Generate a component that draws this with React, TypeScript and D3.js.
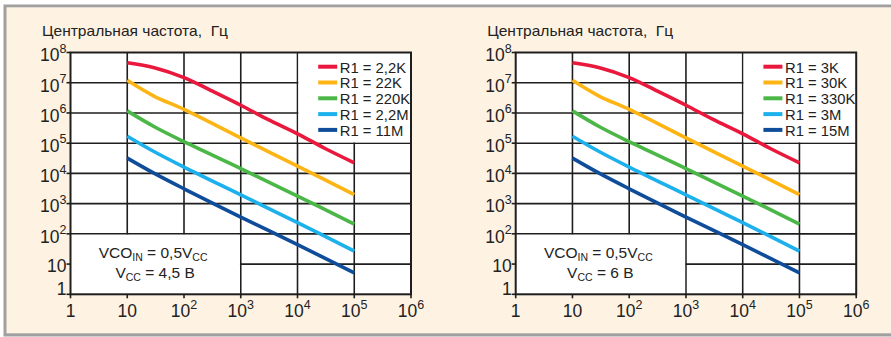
import React from "react";
import * as d3 from "d3";

// Frequency axis (control frequency, Hz) and axis decades
const xDecades = [1, 10, 100, 1000, 10000, 100000, 1000000];
const yDecades = [1, 10, 100, 1000, 10000, 100000, 1000000, 10000000, 100000000];

// Curve sample points: [x, centre frequency, Hz]
const curveRed: [number, number][] = [
  [10, 4.57e7], [30, 3.15e7], [100, 1.48e7], [300, 5.5e6], [1000, 1.8e6],
  [3000, 6.1e5], [10000, 2.04e5], [30000, 6.8e4], [100000, 2.24e4],
];
const curveOrange: [number, number][] = [
  [10, 1.2e7], [30, 3.55e6], [100, 1.32e6], [1000, 1.5e5], [10000, 1.74e4], [100000, 2.0e3],
];
const curveGreen: [number, number][] = [
  [10, 1.17e6], [30, 3.5e5], [100, 1.12e5], [1000, 1.45e4], [10000, 1.78e3], [100000, 2.1e2],
];
const curveCyan: [number, number][] = [
  [10, 1.7e5], [30, 5.2e4], [100, 1.62e4], [1000, 1.95e3], [10000, 2.35e2], [100000, 27],
];
const curveNavy: [number, number][] = [
  [10, 3.2e4], [30, 1.0e4], [100, 3.1e3], [1000, 3.6e2], [10000, 44], [100000, 5.1],
];

const seriesCurves = [curveRed, curveOrange, curveGreen, curveCyan, curveNavy];
const seriesColors = ["#e9183c", "#fdb515", "#4bb747", "#1cb1ec", "#0f4d9b"];

const legendLeft = ["R1 = 2,2K", "R1 = 22K", "R1 = 220K", "R1 = 2,2M", "R1 = 11M"];
const legendRight = ["R1 = 3K", "R1 = 30K", "R1 = 330K", "R1 = 3M", "R1 = 15M"];
const supplyLeft = "4,5 В";
const supplyRight = "6 В";
const titleText = "Центральная частота,\u00a0 Гц";

const FONT = "'Liberation Sans Narrow', 'Arial Narrow', 'Liberation Sans', sans-serif";
const INK = "#222";

function expLabel(v: number) {
  const e = Math.round(Math.log10(v));
  return { e, base: e === 0 ? "1" : "10", sup: e >= 2 ? String(e) : "" };
}

function Panel({ dx, legend, supply }: { dx: number; legend: string[]; supply: string }) {
  const x0 = 70.5 + dx;
  const x1 = x0 + 340.5;
  const yBottom = 294.3;
  const yTop = 52.5;
  const xs = d3.scaleLog().domain([1, 1e6]).range([x0, x1]);
  const ys = d3.scaleLog().domain([1, 1e8]).range([yBottom, yTop]);
  const line = d3
    .line<[number, number]>()
    .x((d) => xs(d[0]))
    .y((d) => ys(d[1]))
    .curve(d3.curveCatmullRom.alpha(0.5));

  const grid = "#1e1e1e";
  const legendRowY = (i: number) => 66.7 + i * 15.8;
  const noteX = (x0 + xs(1000)) / 2 - 2.5;

  return (
    <g fontFamily={FONT}>
      <text
        x={42 + dx}
        y={36}
        fontSize={14.5}
        fill={INK}
        textLength={186}
        lengthAdjust="spacingAndGlyphs"
      >
        {titleText}
      </text>
      <rect x={x0} y={yTop} width={x1 - x0} height={yBottom - yTop} fill="#fff" />
      {/* grid */}
      {xDecades.slice(1, -1).map((v) => (
        <line key={"gx" + v} x1={xs(v)} x2={xs(v)} y1={yTop} y2={yBottom} stroke={grid} strokeWidth={1.6} />
      ))}
      {yDecades.slice(1, -1).map((v) => (
        <line key={"gy" + v} x1={x0} x2={x1} y1={ys(v)} y2={ys(v)} stroke={grid} strokeWidth={1.6} />
      ))}
      {/* legend box and note box hide the grid inside them */}
      <rect
        x={xs(1e4) + 0.8}
        y={yTop}
        width={xs(1e6) - xs(1e4) - 0.8}
        height={ys(1e5) - yTop - 0.8}
        fill="#fff"
      />
      <rect
        x={x0}
        y={ys(100) + 0.8}
        width={xs(1000) - x0 - 0.8}
        height={yBottom - ys(100) - 0.8}
        fill="#fff"
      />
      {/* frame */}
      <rect x={x0} y={yTop} width={x1 - x0} height={yBottom - yTop} fill="none" stroke={grid} strokeWidth={2} />
      {/* ticks */}
      {yDecades.map((v) => (
        <line key={"ty" + v} x1={x0 - 4} x2={x0} y1={ys(v)} y2={ys(v)} stroke={grid} strokeWidth={1.6} />
      ))}
      {xDecades.map((v) => (
        <line key={"tx" + v} x1={xs(v)} x2={xs(v)} y1={yBottom} y2={yBottom + 4} stroke={grid} strokeWidth={1.6} />
      ))}
      {/* y tick labels */}
      {yDecades.map((v) => {
        const l = expLabel(v);
        const yy = ys(v) + (l.e === 0 ? 0.8 : l.sup ? 8.8 : 7.7);
        return (
          <text key={"ly" + v} x={x0 - 4} y={yy} fontSize={17.5} fill={INK} textAnchor="end">
            {l.base}
            {l.sup && (
              <tspan fontSize={12.5} dy={-8.5}>
                {l.sup}
              </tspan>
            )}
          </text>
        );
      })}
      {/* x tick labels */}
      {xDecades.map((v) => {
        const l = expLabel(v);
        return (
          <text key={"lx" + v} x={xs(v)} y={316.7} fontSize={17.5} fill={INK} textAnchor="middle">
            {l.base}
            {l.sup && (
              <tspan fontSize={12.5} dy={-8}>
                {l.sup}
              </tspan>
            )}
          </text>
        );
      })}
      {/* curves */}
      {seriesCurves.map((c, i) => (
        <path
          key={"c" + i}
          d={line(c) || ""}
          fill="none"
          stroke={seriesColors[i]}
          strokeWidth={3.6}
          strokeLinecap="butt"
        />
      ))}
      {/* legend */}
      {legend.map((t, i) => (
        <g key={"lg" + i}>
          <line
            x1={xs(1e4) + 20.7}
            x2={xs(1e4) + 39.7}
            y1={legendRowY(i)}
            y2={legendRowY(i)}
            stroke={seriesColors[i]}
            strokeWidth={4}
          />
          <text x={xs(1e4) + 42.3} y={legendRowY(i) + 5.8} fontSize={14.8} fill={INK}>
            {t}
          </text>
        </g>
      ))}
      {/* operating conditions */}
      <text x={noteX} y={258} fontSize={15.5} fill={INK} textAnchor="middle">
        VCO
        <tspan fontSize={10.5} dy={3}>IN</tspan>
        <tspan dy={-3}> = 0,5V</tspan>
        <tspan fontSize={10.5} dy={3}>CC</tspan>
      </text>
      <text x={noteX + 2} y={278} fontSize={15.5} fill={INK} textAnchor="middle">
        V
        <tspan fontSize={10.5} dy={3}>CC</tspan>
        <tspan dy={-3}> = {supply}</tspan>
      </text>
    </g>
  );
}

export default function App() {
  return (
    <svg
      width={891}
      height={337}
      style={{ position: "absolute", left: 0, top: 0, display: "block" }}
    >
      <rect x={0} y={0} width={891} height={337} fill="#fff" />
      <rect x={3.5} y={4.5} width={900} height={332} fill="#a0a0a0" />
      <rect x={6.5} y={7.3} width={900} height={326} fill="#fef2e2" />
      <Panel dx={0} legend={legendLeft} supply={supplyLeft} />
      <Panel dx={445.2} legend={legendRight} supply={supplyRight} />
    </svg>
  );
}
